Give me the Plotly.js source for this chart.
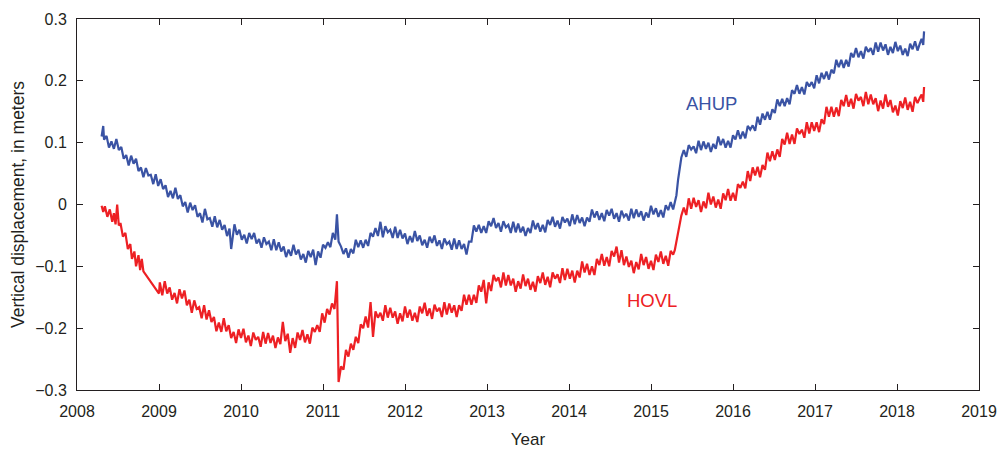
<!DOCTYPE html>
<html>
<head>
<meta charset="utf-8">
<script src="https://cdn.plot.ly/plotly-3.0.1.min.js"></script>
<style>html,body{margin:0;padding:0;background:#fff;}#chart{width:998px;height:449px;}</style>
</head>
<body>
<div id="chart"></div>
<script>
// [decimal year, vertical displacement in meters]
const ahup = [[2008.30,0.110],[2008.32,0.127],[2008.33,0.105],[2008.36,0.111],[2008.39,0.092],[2008.42,0.102],[2008.45,0.090],[2008.48,0.106],[2008.51,0.088],[2008.54,0.093],[2008.57,0.074],[2008.60,0.080],[2008.63,0.063],[2008.66,0.079],[2008.69,0.066],[2008.72,0.074],[2008.75,0.054],[2008.78,0.060],[2008.81,0.044],[2008.84,0.059],[2008.87,0.047],[2008.90,0.048],[2008.93,0.033],[2008.96,0.049],[2008.99,0.030],[2009.02,0.041],[2009.05,0.025],[2009.08,0.031],[2009.11,0.012],[2009.14,0.022],[2009.17,0.010],[2009.20,0.027],[2009.23,0.009],[2009.26,0.015],[2009.29,-0.003],[2009.32,0.004],[2009.35,-0.013],[2009.38,0.003],[2009.41,-0.009],[2009.44,-0.001],[2009.47,-0.020],[2009.50,-0.014],[2009.53,-0.029],[2009.56,-0.007],[2009.59,-0.024],[2009.62,-0.022],[2009.65,-0.036],[2009.68,-0.019],[2009.71,-0.037],[2009.74,-0.025],[2009.77,-0.041],[2009.80,-0.033],[2009.83,-0.051],[2009.86,-0.039],[2009.88,-0.072],[2009.92,-0.032],[2009.95,-0.049],[2009.98,-0.041],[2010.01,-0.057],[2010.04,-0.049],[2010.07,-0.063],[2010.10,-0.046],[2010.13,-0.056],[2010.16,-0.046],[2010.19,-0.063],[2010.22,-0.056],[2010.25,-0.070],[2010.28,-0.053],[2010.31,-0.064],[2010.34,-0.060],[2010.37,-0.074],[2010.40,-0.056],[2010.43,-0.074],[2010.46,-0.061],[2010.49,-0.076],[2010.52,-0.068],[2010.55,-0.085],[2010.58,-0.073],[2010.61,-0.083],[2010.64,-0.065],[2010.67,-0.081],[2010.70,-0.073],[2010.73,-0.089],[2010.76,-0.080],[2010.79,-0.094],[2010.82,-0.075],[2010.85,-0.085],[2010.88,-0.073],[2010.91,-0.098],[2010.94,-0.076],[2010.97,-0.086],[2011.00,-0.065],[2011.03,-0.070],[2011.06,-0.061],[2011.09,-0.069],[2011.12,-0.046],[2011.15,-0.057],[2011.17,-0.016],[2011.19,-0.060],[2011.22,-0.068],[2011.25,-0.080],[2011.28,-0.071],[2011.31,-0.086],[2011.34,-0.072],[2011.37,-0.079],[2011.40,-0.057],[2011.43,-0.069],[2011.46,-0.058],[2011.49,-0.070],[2011.52,-0.057],[2011.55,-0.067],[2011.58,-0.046],[2011.61,-0.052],[2011.64,-0.038],[2011.67,-0.051],[2011.70,-0.028],[2011.73,-0.053],[2011.76,-0.035],[2011.79,-0.045],[2011.82,-0.041],[2011.85,-0.054],[2011.88,-0.036],[2011.91,-0.054],[2011.94,-0.041],[2011.97,-0.055],[2012.00,-0.047],[2012.03,-0.064],[2012.06,-0.051],[2012.09,-0.061],[2012.12,-0.043],[2012.15,-0.059],[2012.18,-0.050],[2012.21,-0.066],[2012.24,-0.057],[2012.27,-0.070],[2012.30,-0.052],[2012.33,-0.062],[2012.36,-0.050],[2012.39,-0.067],[2012.42,-0.058],[2012.45,-0.072],[2012.48,-0.055],[2012.51,-0.064],[2012.54,-0.060],[2012.57,-0.073],[2012.60,-0.055],[2012.63,-0.072],[2012.66,-0.058],[2012.69,-0.072],[2012.72,-0.064],[2012.75,-0.081],[2012.78,-0.060],[2012.81,-0.060],[2012.84,-0.034],[2012.87,-0.044],[2012.90,-0.033],[2012.93,-0.046],[2012.96,-0.035],[2012.99,-0.046],[2013.02,-0.027],[2013.05,-0.035],[2013.08,-0.022],[2013.11,-0.038],[2013.14,-0.030],[2013.17,-0.044],[2013.20,-0.027],[2013.23,-0.037],[2013.26,-0.033],[2013.29,-0.046],[2013.32,-0.028],[2013.35,-0.045],[2013.38,-0.031],[2013.41,-0.045],[2013.44,-0.036],[2013.47,-0.051],[2013.50,-0.038],[2013.53,-0.046],[2013.56,-0.026],[2013.59,-0.040],[2013.62,-0.030],[2013.65,-0.044],[2013.68,-0.033],[2013.71,-0.045],[2013.74,-0.025],[2013.77,-0.033],[2013.80,-0.020],[2013.83,-0.036],[2013.86,-0.026],[2013.89,-0.039],[2013.92,-0.020],[2013.95,-0.029],[2013.98,-0.023],[2014.01,-0.035],[2014.04,-0.016],[2014.07,-0.032],[2014.10,-0.017],[2014.13,-0.030],[2014.16,-0.021],[2014.19,-0.035],[2014.22,-0.021],[2014.25,-0.028],[2014.28,-0.008],[2014.31,-0.021],[2014.34,-0.011],[2014.37,-0.025],[2014.40,-0.014],[2014.43,-0.027],[2014.46,-0.009],[2014.49,-0.018],[2014.52,-0.007],[2014.55,-0.023],[2014.58,-0.014],[2014.61,-0.028],[2014.64,-0.010],[2014.67,-0.020],[2014.70,-0.015],[2014.73,-0.026],[2014.76,-0.007],[2014.79,-0.022],[2014.82,-0.008],[2014.85,-0.020],[2014.88,-0.011],[2014.91,-0.026],[2014.94,-0.013],[2014.97,-0.021],[2015.00,-0.002],[2015.03,-0.016],[2015.06,-0.006],[2015.09,-0.020],[2015.12,-0.009],[2015.15,-0.021],[2015.18,-0.001],[2015.21,-0.009],[2015.24,0.004],[2015.27,-0.008],[2015.29,0.004],[2015.31,0.015],[2015.33,0.040],[2015.35,0.062],[2015.37,0.076],[2015.40,0.088],[2015.43,0.077],[2015.46,0.096],[2015.49,0.089],[2015.52,0.094],[2015.55,0.083],[2015.58,0.103],[2015.61,0.088],[2015.64,0.102],[2015.67,0.090],[2015.70,0.100],[2015.73,0.085],[2015.76,0.098],[2015.79,0.090],[2015.82,0.110],[2015.85,0.096],[2015.88,0.106],[2015.91,0.092],[2015.94,0.103],[2015.97,0.092],[2016.00,0.112],[2016.03,0.105],[2016.06,0.120],[2016.09,0.106],[2016.12,0.118],[2016.15,0.107],[2016.18,0.127],[2016.21,0.121],[2016.24,0.128],[2016.27,0.119],[2016.30,0.142],[2016.33,0.129],[2016.36,0.147],[2016.39,0.137],[2016.42,0.150],[2016.45,0.137],[2016.48,0.154],[2016.51,0.148],[2016.54,0.170],[2016.57,0.159],[2016.60,0.171],[2016.63,0.159],[2016.66,0.172],[2016.69,0.162],[2016.72,0.185],[2016.75,0.179],[2016.78,0.193],[2016.81,0.179],[2016.84,0.190],[2016.87,0.178],[2016.90,0.198],[2016.93,0.191],[2016.96,0.198],[2016.99,0.188],[2017.02,0.209],[2017.05,0.196],[2017.08,0.213],[2017.11,0.203],[2017.14,0.215],[2017.17,0.202],[2017.20,0.218],[2017.23,0.212],[2017.26,0.234],[2017.29,0.222],[2017.32,0.234],[2017.35,0.221],[2017.38,0.234],[2017.41,0.223],[2017.44,0.245],[2017.47,0.238],[2017.50,0.253],[2017.53,0.238],[2017.56,0.248],[2017.59,0.236],[2017.62,0.255],[2017.65,0.247],[2017.68,0.253],[2017.71,0.242],[2017.74,0.262],[2017.77,0.247],[2017.80,0.262],[2017.83,0.249],[2017.86,0.259],[2017.89,0.242],[2017.92,0.255],[2017.95,0.245],[2017.98,0.263],[2018.01,0.248],[2018.04,0.257],[2018.07,0.242],[2018.10,0.252],[2018.13,0.240],[2018.16,0.260],[2018.19,0.251],[2018.22,0.264],[2018.25,0.249],[2018.28,0.261],[2018.30,0.268],[2018.32,0.258],[2018.33,0.280]];

const hovl = [[2008.30,-0.002],[2008.32,-0.012],[2008.34,-0.003],[2008.37,-0.020],[2008.40,-0.008],[2008.43,-0.028],[2008.45,-0.014],[2008.47,-0.032],[2008.49,0.000],[2008.51,-0.034],[2008.53,-0.030],[2008.56,-0.052],[2008.59,-0.046],[2008.62,-0.072],[2008.65,-0.064],[2008.67,-0.088],[2008.70,-0.076],[2008.72,-0.100],[2008.75,-0.082],[2008.77,-0.106],[2008.79,-0.088],[2008.81,-0.108],[2009.00,-0.144],[2009.01,-0.126],[2009.04,-0.147],[2009.07,-0.124],[2009.10,-0.144],[2009.13,-0.134],[2009.16,-0.154],[2009.19,-0.143],[2009.22,-0.160],[2009.25,-0.137],[2009.28,-0.152],[2009.31,-0.139],[2009.34,-0.163],[2009.37,-0.154],[2009.40,-0.175],[2009.43,-0.155],[2009.46,-0.169],[2009.49,-0.166],[2009.52,-0.184],[2009.55,-0.163],[2009.58,-0.186],[2009.61,-0.171],[2009.64,-0.190],[2009.67,-0.182],[2009.70,-0.205],[2009.73,-0.191],[2009.76,-0.206],[2009.79,-0.184],[2009.82,-0.205],[2009.85,-0.195],[2009.88,-0.216],[2009.91,-0.206],[2009.94,-0.224],[2009.97,-0.202],[2010.00,-0.216],[2010.03,-0.201],[2010.06,-0.223],[2010.09,-0.212],[2010.12,-0.229],[2010.15,-0.207],[2010.18,-0.219],[2010.21,-0.214],[2010.24,-0.230],[2010.27,-0.206],[2010.30,-0.225],[2010.33,-0.208],[2010.36,-0.224],[2010.39,-0.212],[2010.42,-0.232],[2010.45,-0.215],[2010.48,-0.226],[2010.51,-0.190],[2010.54,-0.221],[2010.57,-0.209],[2010.60,-0.240],[2010.63,-0.216],[2010.66,-0.232],[2010.69,-0.207],[2010.72,-0.219],[2010.75,-0.203],[2010.78,-0.223],[2010.81,-0.210],[2010.84,-0.225],[2010.87,-0.199],[2010.90,-0.206],[2010.93,-0.195],[2010.96,-0.206],[2010.99,-0.176],[2011.02,-0.191],[2011.05,-0.169],[2011.08,-0.178],[2011.11,-0.160],[2011.14,-0.169],[2011.15,-0.148],[2011.17,-0.124],[2011.18,-0.200],[2011.19,-0.287],[2011.22,-0.262],[2011.25,-0.267],[2011.28,-0.235],[2011.31,-0.246],[2011.34,-0.225],[2011.37,-0.235],[2011.40,-0.214],[2011.43,-0.224],[2011.46,-0.194],[2011.49,-0.200],[2011.52,-0.181],[2011.55,-0.199],[2011.58,-0.158],[2011.61,-0.214],[2011.64,-0.173],[2011.67,-0.183],[2011.70,-0.175],[2011.73,-0.188],[2011.76,-0.163],[2011.79,-0.183],[2011.82,-0.167],[2011.85,-0.183],[2011.88,-0.173],[2011.91,-0.193],[2011.94,-0.176],[2011.97,-0.189],[2012.00,-0.165],[2012.03,-0.183],[2012.06,-0.170],[2012.09,-0.188],[2012.12,-0.175],[2012.15,-0.190],[2012.18,-0.165],[2012.21,-0.176],[2012.24,-0.159],[2012.27,-0.180],[2012.30,-0.168],[2012.33,-0.185],[2012.36,-0.162],[2012.39,-0.173],[2012.42,-0.167],[2012.45,-0.182],[2012.48,-0.158],[2012.51,-0.178],[2012.54,-0.160],[2012.57,-0.175],[2012.60,-0.163],[2012.63,-0.182],[2012.66,-0.163],[2012.69,-0.172],[2012.72,-0.146],[2012.75,-0.162],[2012.78,-0.146],[2012.81,-0.162],[2012.84,-0.146],[2012.87,-0.159],[2012.90,-0.131],[2012.93,-0.141],[2012.96,-0.122],[2012.99,-0.160],[2013.02,-0.126],[2013.05,-0.140],[2013.08,-0.114],[2013.11,-0.124],[2013.14,-0.118],[2013.17,-0.134],[2013.20,-0.110],[2013.23,-0.131],[2013.26,-0.114],[2013.29,-0.131],[2013.32,-0.120],[2013.35,-0.141],[2013.38,-0.124],[2013.41,-0.136],[2013.44,-0.113],[2013.47,-0.132],[2013.50,-0.120],[2013.53,-0.138],[2013.56,-0.125],[2013.59,-0.141],[2013.62,-0.116],[2013.65,-0.127],[2013.68,-0.110],[2013.71,-0.130],[2013.74,-0.117],[2013.77,-0.134],[2013.80,-0.110],[2013.83,-0.120],[2013.86,-0.113],[2013.89,-0.127],[2013.92,-0.103],[2013.95,-0.122],[2013.98,-0.104],[2014.01,-0.120],[2014.04,-0.107],[2014.07,-0.126],[2014.10,-0.107],[2014.13,-0.118],[2014.16,-0.092],[2014.19,-0.110],[2014.22,-0.096],[2014.25,-0.114],[2014.28,-0.100],[2014.31,-0.114],[2014.34,-0.088],[2014.37,-0.098],[2014.40,-0.080],[2014.43,-0.099],[2014.46,-0.085],[2014.49,-0.100],[2014.52,-0.075],[2014.55,-0.084],[2014.58,-0.068],[2014.61,-0.094],[2014.64,-0.074],[2014.67,-0.098],[2014.70,-0.084],[2014.73,-0.101],[2014.76,-0.091],[2014.79,-0.111],[2014.82,-0.093],[2014.85,-0.105],[2014.88,-0.080],[2014.91,-0.098],[2014.94,-0.085],[2014.97,-0.104],[2015.00,-0.091],[2015.03,-0.106],[2015.06,-0.081],[2015.09,-0.093],[2015.12,-0.076],[2015.15,-0.096],[2015.18,-0.083],[2015.21,-0.099],[2015.24,-0.075],[2015.27,-0.081],[2015.29,-0.074],[2015.31,-0.060],[2015.33,-0.042],[2015.35,-0.030],[2015.37,-0.018],[2015.40,-0.005],[2015.43,-0.017],[2015.46,0.010],[2015.49,-0.007],[2015.52,0.011],[2015.55,-0.004],[2015.58,0.007],[2015.61,-0.012],[2015.64,0.005],[2015.67,-0.006],[2015.70,0.019],[2015.73,0.000],[2015.76,0.013],[2015.79,-0.005],[2015.82,0.008],[2015.85,-0.007],[2015.88,0.018],[2015.91,0.007],[2015.94,0.025],[2015.97,0.006],[2016.00,0.019],[2016.03,0.006],[2016.06,0.033],[2016.09,0.027],[2016.12,0.037],[2016.15,0.026],[2016.18,0.054],[2016.21,0.038],[2016.24,0.060],[2016.27,0.047],[2016.30,0.061],[2016.33,0.044],[2016.36,0.064],[2016.39,0.056],[2016.42,0.084],[2016.45,0.070],[2016.48,0.086],[2016.51,0.072],[2016.54,0.089],[2016.57,0.077],[2016.60,0.106],[2016.63,0.097],[2016.66,0.116],[2016.69,0.098],[2016.72,0.113],[2016.75,0.098],[2016.78,0.123],[2016.81,0.114],[2016.84,0.121],[2016.87,0.108],[2016.90,0.133],[2016.93,0.115],[2016.96,0.133],[2016.99,0.119],[2017.02,0.133],[2017.05,0.117],[2017.08,0.138],[2017.11,0.130],[2017.14,0.158],[2017.17,0.142],[2017.20,0.158],[2017.23,0.142],[2017.26,0.157],[2017.29,0.143],[2017.32,0.169],[2017.35,0.159],[2017.38,0.177],[2017.41,0.158],[2017.44,0.171],[2017.47,0.155],[2017.50,0.179],[2017.53,0.168],[2017.56,0.174],[2017.59,0.159],[2017.62,0.182],[2017.65,0.162],[2017.68,0.178],[2017.71,0.162],[2017.74,0.172],[2017.77,0.151],[2017.80,0.168],[2017.83,0.155],[2017.86,0.178],[2017.89,0.158],[2017.92,0.169],[2017.95,0.149],[2017.98,0.160],[2018.01,0.144],[2018.04,0.167],[2018.07,0.156],[2018.10,0.173],[2018.13,0.153],[2018.16,0.166],[2018.19,0.150],[2018.22,0.174],[2018.25,0.164],[2018.28,0.173],[2018.30,0.178],[2018.32,0.166],[2018.33,0.190]];

const seriesNames = ["AHUP", "HOVL"];
const labelPos = {AHUP: [2015.74, 0.163], HOVL: [2015.01, -0.155]};
const xTickVals = [2008, 2009, 2010, 2011, 2012, 2013, 2014, 2015, 2016, 2017, 2018, 2019];
const yTickVals = [-0.3, -0.2, -0.1, 0, 0.1, 0.2, 0.3];

const NF = "'Liberation Sans', Arial, sans-serif";
const BLUE = '#3a53a4', RED = '#ed2024', INK = '#231f20';

const traces = [
  {x: ahup.map(p => p[0]), y: ahup.map(p => p[1]), type: 'scatter', mode: 'lines', name: seriesNames[0],
   line: {color: BLUE, width: 2.2}},
  {x: hovl.map(p => p[0]), y: hovl.map(p => p[1]), type: 'scatter', mode: 'lines', name: seriesNames[1],
   line: {color: RED, width: 2.2}}
];

const axisCommon = {
  showline: true, linecolor: INK, linewidth: 1, mirror: 'ticks', ticks: 'inside', ticklen: 6,
  tickcolor: INK, tickwidth: 1, showgrid: false, zeroline: false, fixedrange: true,
  tickfont: {family: NF, size: 16, color: INK}
};

const layout = {
  width: 998, height: 449,
  margin: {l: 77, r: 19, t: 19, b: 59},
  paper_bgcolor: '#fff', plot_bgcolor: '#fff',
  showlegend: false,
  xaxis: Object.assign({}, axisCommon, {
    range: [2008, 2019], tickmode: 'array', tickvals: xTickVals, ticktext: xTickVals.map(String),
    ticklabelstandoff: 7,
    title: {text: 'Year', font: {family: NF, size: 17, color: INK}, standoff: 13}
  }),
  yaxis: Object.assign({}, axisCommon, {
    range: [-0.3, 0.3], tickmode: 'array', tickvals: yTickVals,
    ticktext: yTickVals.map(v => v === 0 ? '0' : (v < 0 ? '\u2212' + Math.abs(v).toFixed(1) : v.toFixed(1))),
    ticklabelstandoff: 6,
    title: {text: 'Vertical displacement, in meters', font: {family: NF, size: 17.5, color: INK}, standoff: 6}
  }),
  annotations: [
    {x: labelPos.AHUP[0], y: labelPos.AHUP[1], text: seriesNames[0], showarrow: false,
     font: {family: NF, size: 18.5, color: BLUE}, xanchor: 'center', yanchor: 'middle'},
    {x: labelPos.HOVL[0], y: labelPos.HOVL[1], text: seriesNames[1], showarrow: false,
     font: {family: NF, size: 18.5, color: RED}, xanchor: 'center', yanchor: 'middle'}
  ]
};

Plotly.newPlot('chart', traces, layout, {displayModeBar: false, staticPlot: true});
</script>
</body>
</html>
